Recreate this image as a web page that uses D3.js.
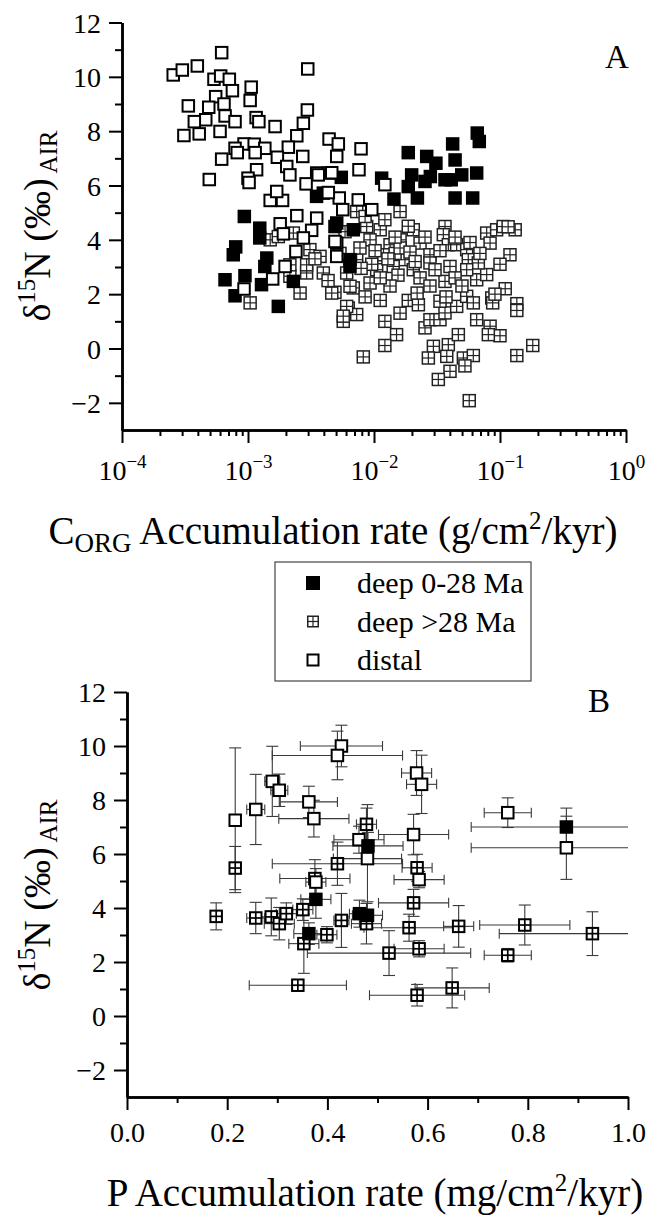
<!DOCTYPE html>
<html>
<head>
<meta charset="utf-8">
<script src="https://cdn.jsdelivr.net/npm/d3@7"></script>
<style>
  body { margin: 0; background: #fff; }
  svg text { font-family: "Liberation Serif", "Times New Roman", serif; fill: #000; }
</style>
</head>
<body>
<svg id="chart" width="649" height="1216"></svg>
<script>
// ---- Panel A: [Corg accumulation rate (g/cm2/kyr), d15N] ----
const deepYoungA = [
  [9.35e-4,4.86],[1.24e-3,4.43],[1.24e-3,4.07],[7.99e-4,3.74],[7.64e-4,3.45],
  [1.41e-3,3.33],[1.36e-3,3.02],[6.57e-4,2.53],[9.46e-4,2.68],[1.28e-3,2.35],
  [7.89e-4,1.94],[1.74e-3,1.55],[2.29e-3,2.47],[5.06e-3,4.62],[3.96e-3,5.72],
  [6.45e-3,3.02],[1.87e-2,7.21],[2.62e-2,7.07],[3.1e-2,6.82],[4.21e-2,7.53],
  [6.85e-2,7.62],[6.6e-2,7.93],[4.4e-2,6.94],[4.97e-2,6.39],[6.53e-2,6.46],
  [3.66e-2,6.21],[1.99e-2,6.39],[1.87e-2,5.96],[2.54e-2,6.15],[1.15e-2,6.27],
  [1.44e-2,5.5],[2.21e-2,5.54],[4.4e-2,5.54],[6.07e-2,5.54],[4.9e-3,4.49],
  [6.85e-3,4.37],[6.45e-3,3.27],[2.8e-2,6.33],[4.1e-2,6.21],[3.5e-3,5.6],
  [5.5e-3,6.3]
];
const deepOldA = [
  [4.9e-3,2.07],[6.85e-3,2.23],[6.25e-3,1.49],[7.29e-3,1.25],[5.7e-3,1.0],
  [1.22e-2,1.0],[1.51e-2,0.51],[1.22e-2,0.11],[8.22e-3,-0.31],[1.12e-2,1.77],
  [9.3e-3,2.41],[1.87e-2,1.77],[2.25e-2,1.61],[2.2e-2,2.04],[2.54e-2,0.76],
  [2.78e-2,1.06],[2.96e-2,0.08],[2.7e-2,-0.35],[3.89e-2,0.14],[3.78e-2,-0.29],
  [4.67e-2,0.51],[5.12e-2,-0.35],[4.01e-2,-0.84],[3.24e-2,-1.14],[6.14e-2,-0.26],
  [5.27e-2,-0.64],[5.7e-2,-1.92],[3.34e-2,1.06],[3.66e-2,1.31],[4.53e-2,1.55],
  [6.53e-2,1.06],[8.34e-2,0.82],[1.0e-1,0.47],[8.08e-2,0.51],[1.36e-1,1.65],
  [1.36e-1,1.40],[1.82e-1,0.11],[1.36e-1,-0.26],[8.6e-2,1.86],[8.75e-2,1.68],
  [5.44e-2,1.92],[6.14e-2,1.68],[6.53e-2,2.53],[3.66e-2,2.47],[3.34e-2,1.74],
  [7.29e-3,5.04],[1.12e-2,4.37],[1.22e-2,4.74],[1.61e-2,5.04],[2.05e-2,4.37],
  [1.61e-2,4.0],[1.34e-2,3.82],[1.19e-2,3.45],[2.32e-2,3.88],[3.66e-2,4.49],
  [3.55e-2,4.19],[3.89e-2,3.82],[4.53e-2,3.82],[5.44e-2,3.64],[5.6e-2,3.27],
  [7.84e-2,4.25],[8.34e-2,3.88],[9.4e-2,4.37],[1.06e-1,4.49],[1.32e-1,4.37],
  [1.2e-1,3.45],[7.84e-2,2.72],[6.73e-2,3.15],[2.78e-2,3.45],[2.78e-2,3.15],
  [4.01e-2,3.02],[5.44e-2,2.9],[1.76e-2,3.27],[8.75e-3,4.49],[9.3e-3,4.0],
  [7.29e-3,3.27],[6.07e-3,2.78],[1.05e-2,2.9],[1.42e-2,3.02],[2.05e-2,2.9],
  [8.5e-3,4.86],[1.04e-3,1.68],[2.59e-3,2.04],[4.62e-3,2.04],[6.07e-3,1.55],
  [2.15e-3,2.66],[2.92e-3,2.78],[3.96e-3,2.78],[3.1e-3,3.64],[3.73e-3,3.39],
  [1.5e-3,4.0],[1.74e-3,4.12],[2.29e-3,4.25],[2.15e-3,3.08],[2.92e-3,3.08],
  [6.45e-3,2.29],[5.7e-3,1.19],[7.74e-3,3.7],[1.02e-2,3.6],[1.47e-2,3.5],
  [1.61e-2,3.7],[1.93e-2,3.55],[1.29e-2,3.3],[9.6e-3,3.1],[7.9e-3,2.95],
  [1.55e-2,2.7],[2.32e-2,2.6],[3.05e-2,2.9],[4.4e-2,2.6],[3.34e-2,3.6],
  [2.54e-2,4.1],[1.87e-2,4.5],[1.47e-2,4.1],[4.4e-2,4.1],[5.78e-2,3.9],
  [6.93e-2,3.5],[1.0e-1,3.1],[1.1e-1,2.2],[9.12e-2,2.0],[4.99e-2,2.3],
  [3.73e-2,1.9],[2.78e-2,2.3],[1.34e-2,2.3],[1.61e-2,1.3],[8.5e-3,1.9],
  [4.32e-3,2.5],[3.4e-3,3.3],[5.37e-3,3.5],[5.89e-3,4.3],[1.12e-2,2.6],
  [2.12e-2,3.2],[1.16e-1,4.48]
];
const distalA = [
  [2.55e-4,10.07],[3.01e-4,10.25],[3.96e-4,10.4],[6.18e-4,10.89],[2.98e-3,10.29],
  [5.37e-4,9.91],[6.07e-4,10.03],[7.11e-4,9.91],[7.52e-4,9.49],[5.54e-4,9.27],
  [1.06e-3,9.62],[1.04e-3,9.13],[3.36e-4,8.93],[4.88e-4,8.88],[6.45e-4,9.0],
  [6.58e-4,8.56],[4.62e-4,8.42],[3.75e-4,8.35],[7.89e-4,8.35],[1.16e-3,8.5],
  [1.22e-3,8.35],[2.96e-3,8.78],[2.75e-3,8.29],[1.64e-3,8.17],[3.1e-4,7.84],
  [4.1e-4,7.9],[6.0e-4,7.99],[2.44e-3,7.83],[4.4e-3,7.71],[5.21e-3,7.53],
  [9.3e-4,7.53],[1.12e-3,7.52],[7.89e-4,7.37],[2.09e-3,7.41],[1.36e-3,7.37],
  [6.18e-4,6.97],[8.22e-4,7.21],[1.14e-3,7.21],[1.71e-3,7.04],[2.72e-3,7.07],
  [5.06e-3,7.07],[2.03e-3,6.7],[1.17e-3,6.58],[4.93e-4,6.22],[1.0e-3,6.27],
  [3.51e-3,6.46],[4.34e-3,6.46],[7.89e-3,7.35],[7.6e-3,6.58],[1.22e-2,6.03],
  [5.3e-3,5.54],[7.5e-3,5.47],[5.65e-3,5.11],[9.6e-3,5.11],[5.06e-3,3.88],
  [5.06e-3,3.39],[4.62e-3,6.47],[1.02e-3,6.11],[1.5e-3,5.45],[1.88e-3,5.45],
  [1.69e-3,5.78],[2.15e-3,6.39],[2.89e-3,6.06],[3.61e-3,6.39],[4.34e-3,5.74],
  [2.44e-3,4.89],[3.51e-3,4.8],[1.8e-3,4.59],[3.2e-3,4.35],[1.91e-3,4.22],
  [2.75e-3,4.07],[4.9e-3,3.94],[2.4e-3,3.57],[1.97e-3,3.02],[1.57e-3,2.56],
  [9.3e-4,2.19]
];

// ---- Panel B: [P accumulation rate (mg/cm2/kyr), d15N, x error, y error] ----
const deepYoungB = [
  [0.877,7.0,0.19,0.7],[0.481,6.3,0.07,0.5],[0.377,4.32,0.03,0.7],
  [0.464,3.79,0.02,0.5],[0.48,3.73,0.03,0.5],[0.363,3.05,0.03,0.4]
];
const deepOldB = [
  [0.216,5.48,0,0.8],[0.178,3.69,0,0.5],[0.257,3.63,0.018,0.58],[0.288,3.67,0.02,0.7],
  [0.304,3.42,0.03,0.6],[0.318,3.79,0.02,0.4],[0.351,3.94,0.02,0.4],[0.353,2.68,0.03,1.1],
  [0.341,1.14,0.097,0.2],[0.399,3.01,0.02,0.3],[0.428,3.54,0.015,1.0],[0.42,5.64,0.13,0.8],
  [0.375,5.09,0.07,0.7],[0.478,3.42,0.03,0.75],[0.478,7.1,0.02,0.6],[0.523,2.33,0.163,0.83],
  [0.563,3.27,0.09,0.5],[0.572,4.19,0.07,0.5],[0.579,5.49,0.03,0.5],[0.583,2.49,0.05,0.3],
  [0.579,0.77,0.095,0.4],[0.649,1.04,0.074,0.74],[0.662,3.32,0.03,0.77],[0.794,3.37,0.09,0.74],
  [0.76,2.25,0.047,0.25],[0.929,3.05,0.186,0.81]
];
const distalB = [
  [0.216,7.25,0,2.68],[0.257,7.65,0.018,1.3],[0.29,8.69,0.015,1.3],[0.304,8.36,0.017,0.6],
  [0.363,7.93,0.057,0.58],[0.373,7.31,0.07,0.68],[0.428,10.0,0.082,0.77],[0.42,9.65,0.13,0.9],
  [0.463,6.53,0.05,0.5],[0.48,5.83,0.068,2.0],[0.572,6.72,0.07,0.75],[0.578,9.0,0.03,0.83],
  [0.588,8.58,0.03,1.08],[0.583,5.05,0.05,0.3],[0.377,4.96,0.02,0.5],[0.76,7.53,0.047,0.55],
  [0.877,6.23,0.19,1.17]
];

// ---- ticks and labels ----
const yMajor = [-2, 0, 2, 4, 6, 8, 10, 12];
const yMinor = [-1, 1, 3, 5, 7, 9, 11];
const xMajorA = [1e-4, 1e-3, 1e-2, 1e-1, 1];
const xExpA = ["−4", "−3", "−2", "−1", "0"];
const xMajorB = [0, 0.2, 0.4, 0.6, 0.8, 1.0];
const xMinorB = [0.1, 0.3, 0.5, 0.7, 0.9];
const legendNames = ["deep 0-28 Ma", "deep >28 Ma", "distal"];

const svg = d3.select("#chart");
const MS = 13.5; // marker outer size

var xA = d3.scaleLog().domain([1e-4, 1]).range([122, 626]);
var yA = d3.scaleLinear().domain([-3, 12]).range([430, 22.5]);
var xB = d3.scaleLinear().domain([0, 1]).range([127, 628]);
var yB = d3.scaleLinear().domain([-3, 12]).range([1097, 692]);

const fmtY = d => d < 0 ? "−" + Math.abs(d) : String(d);
const SERIF = '"Liberation Serif", "Times New Roman", serif';

function styleAxis(g) {
  g.attr("font-family", SERIF);
  g.select(".domain").attr("stroke", "#000").attr("stroke-width", 2.5);
  g.selectAll(".tick line").attr("stroke", "#000").attr("stroke-width", 2);
  g.selectAll(".tick text").style("font-size", "28px").style("font-family", SERIF);
}

function drawYAxis(x, y) {
  const left = x.range()[0];
  const gMin = svg.append("g").attr("transform", `translate(${left},0)`)
    .call(d3.axisLeft(y).tickValues(yMinor).tickSize(7).tickSizeOuter(0).tickFormat(""));
  styleAxis(gMin);
  const g = svg.append("g").attr("transform", `translate(${left},0)`)
    .call(d3.axisLeft(y).tickValues(yMajor).tickSize(13).tickSizeOuter(0).tickPadding(8).tickFormat(fmtY));
  styleAxis(g);
  g.selectAll(".tick text").attr("dy", "0.34em");
}

// ---------- Panel A axes ----------
drawYAxis(xA, yA);
const minorA = [];
[1e-4, 1e-3, 1e-2, 1e-1].forEach(dec => { for (let k = 2; k <= 9; k++) minorA.push(dec * k); });
styleAxis(svg.append("g").attr("transform", "translate(0,430)")
  .call(d3.axisBottom(xA).tickValues(minorA).tickSize(6).tickSizeOuter(0).tickFormat("")));
const gxA = svg.append("g").attr("transform", "translate(0,430)")
  .call(d3.axisBottom(xA).tickValues(xMajorA).tickSize(13).tickSizeOuter(0).tickFormat(""));
styleAxis(gxA);
gxA.selectAll(".tick").each(function (d, i) {
  const t = d3.select(this).append("text").attr("y", 50).attr("text-anchor", "middle")
    .style("font-size", "28px").style("font-family", SERIF);
  t.append("tspan").text("10");
  t.append("tspan").attr("dy", -12).style("font-size", "19px").text(xExpA[i]);
});

// ---------- Panel B axes ----------
drawYAxis(xB, yB);
styleAxis(svg.append("g").attr("transform", "translate(0,1097)")
  .call(d3.axisBottom(xB).tickValues(xMinorB).tickSize(6).tickSizeOuter(0).tickFormat("")));
const gxB = svg.append("g").attr("transform", "translate(0,1097)")
  .call(d3.axisBottom(xB).tickValues(xMajorB).tickSize(13).tickSizeOuter(0).tickPadding(12)
    .tickFormat(d3.format(".1f")));
styleAxis(gxB);
gxB.selectAll(".tick text").attr("dy", "0.71em");

// ---------- markers ----------
// kind: 0 filled, 1 thin crosshatch, 2 open, 3 bold crosshatch
function marker(sel, kind, size) {
  const s = size || MS;
  if (kind === 0) {
    sel.append("rect").attr("x", -s / 2).attr("y", -s / 2).attr("width", s).attr("height", s)
      .attr("fill", "#000");
  } else if (kind === 1 || kind === 3) {
    const sw = kind === 3 ? 2 : 1.5;
    const col = kind === 3 ? "#000" : "#222";
    const h = s / 2 - sw / 2;
    sel.append("rect").attr("x", -h).attr("y", -h).attr("width", 2 * h).attr("height", 2 * h)
      .attr("fill", "#fff").attr("stroke", col).attr("stroke-width", sw);
    sel.append("line").attr("x1", 0).attr("x2", 0).attr("y1", -h).attr("y2", h)
      .attr("stroke", col).attr("stroke-width", sw - 0.3);
    sel.append("line").attr("x1", -h).attr("x2", h).attr("y1", 0).attr("y2", 0)
      .attr("stroke", col).attr("stroke-width", sw - 0.3);
  } else {
    const h = s / 2 - 1;
    sel.append("rect").attr("x", -h).attr("y", -h).attr("width", 2 * h).attr("height", 2 * h)
      .attr("fill", "#fff").attr("stroke", "#000").attr("stroke-width", 2);
  }
}

function drawPoints(data, x, y, kind) {
  svg.append("g").selectAll("g").data(data).join("g")
    .attr("transform", d => `translate(${x(d[0])},${y(d[1])})`)
    .each(function () { marker(d3.select(this), kind); });
}

// Panel A: crosshatch below, then filled, then open
drawPoints(deepOldA, xA, yA, 1);
drawPoints(deepYoungA, xA, yA, 0);
drawPoints(distalA, xA, yA, 2);

// Panel B error bars (clipped to plotting area)
svg.append("clipPath").attr("id", "clipB").append("rect")
  .attr("x", 127).attr("y", 692).attr("width", 501).attr("height", 405);
const gErr = svg.append("g").attr("clip-path", "url(#clipB)")
  .attr("stroke", "#3a3a3a").attr("stroke-width", 1.1).attr("fill", "none");
function drawErrors(data) {
  data.forEach(d => {
    const cx = xB(d[0]), cy = yB(d[1]);
    if (d[2] > 0) {
      const x0 = xB(d[0] - d[2]), x1 = xB(d[0] + d[2]);
      gErr.append("line").attr("x1", x0).attr("x2", x1).attr("y1", cy).attr("y2", cy);
      gErr.append("line").attr("x1", x0).attr("x2", x0).attr("y1", cy - 5).attr("y2", cy + 5);
      gErr.append("line").attr("x1", x1).attr("x2", x1).attr("y1", cy - 5).attr("y2", cy + 5);
    }
    if (d[3] > 0) {
      const y0 = yB(d[1] - d[3]), y1 = yB(d[1] + d[3]);
      gErr.append("line").attr("x1", cx).attr("x2", cx).attr("y1", y0).attr("y2", y1);
      gErr.append("line").attr("x1", cx - 6).attr("x2", cx + 6).attr("y1", y0).attr("y2", y0);
      gErr.append("line").attr("x1", cx - 6).attr("x2", cx + 6).attr("y1", y1).attr("y2", y1);
    }
  });
}
drawErrors(deepOldB);
drawErrors(distalB);
drawErrors(deepYoungB);
drawPoints(deepOldB, xB, yB, 3);
drawPoints(distalB, xB, yB, 2);
drawPoints(deepYoungB, xB, yB, 0);

// ---------- titles ----------
function yTitle(cx, cy) {
  const t = svg.append("text").attr("transform", `translate(${cx},${cy}) rotate(-90)`)
    .attr("text-anchor", "middle").style("font-size", "38px");
  t.append("tspan").text("δ");
  t.append("tspan").attr("dy", -15).style("font-size", "25px").text("15");
  t.append("tspan").attr("dy", 15).text("N (‰)");
  t.append("tspan").attr("dy", 7).style("font-size", "25px").text(" AIR");
}
yTitle(50, 226);
yTitle(50, 895);

const tA = svg.append("text").attr("x", 333).attr("y", 544).attr("text-anchor", "middle")
  .style("font-size", "39px");
tA.append("tspan").text("C");
tA.append("tspan").attr("dy", 8).style("font-size", "27px").text("ORG");
tA.append("tspan").attr("dy", -8).text(" Accumulation rate (g/cm");
tA.append("tspan").attr("dy", -15).style("font-size", "25px").text("2");
tA.append("tspan").attr("dy", 15).text("/kyr)");

const tB = svg.append("text").attr("x", 375).attr("y", 1206).attr("text-anchor", "middle")
  .style("font-size", "39px");
tB.append("tspan").text("P Accumulation rate (mg/cm");
tB.append("tspan").attr("dy", -15).style("font-size", "25px").text("2");
tB.append("tspan").attr("dy", 15).text("/kyr)");

svg.append("text").attr("x", 617).attr("y", 68).attr("text-anchor", "middle")
  .style("font-size", "33px").text("A");
svg.append("text").attr("x", 599).attr("y", 712).attr("text-anchor", "middle")
  .style("font-size", "33px").text("B");

// ---------- legend ----------
const leg = svg.append("g");
leg.append("rect").attr("x", 275).attr("y", 562).attr("width", 256).attr("height", 119)
  .attr("fill", "#fff").attr("stroke", "#444").attr("stroke-width", 1.2);
const legSizes = [14, 12, 13];
legendNames.forEach((name, i) => {
  const cy = 583 + i * 38.5;
  const m = leg.append("g").attr("transform", `translate(313,${cy})`);
  marker(m, i === 0 ? 0 : i === 1 ? 1 : 2, legSizes[i]);
  leg.append("text").attr("x", 357).attr("y", cy + 10).style("font-size", "30px").text(name);
});
</script>
</body>
</html>
